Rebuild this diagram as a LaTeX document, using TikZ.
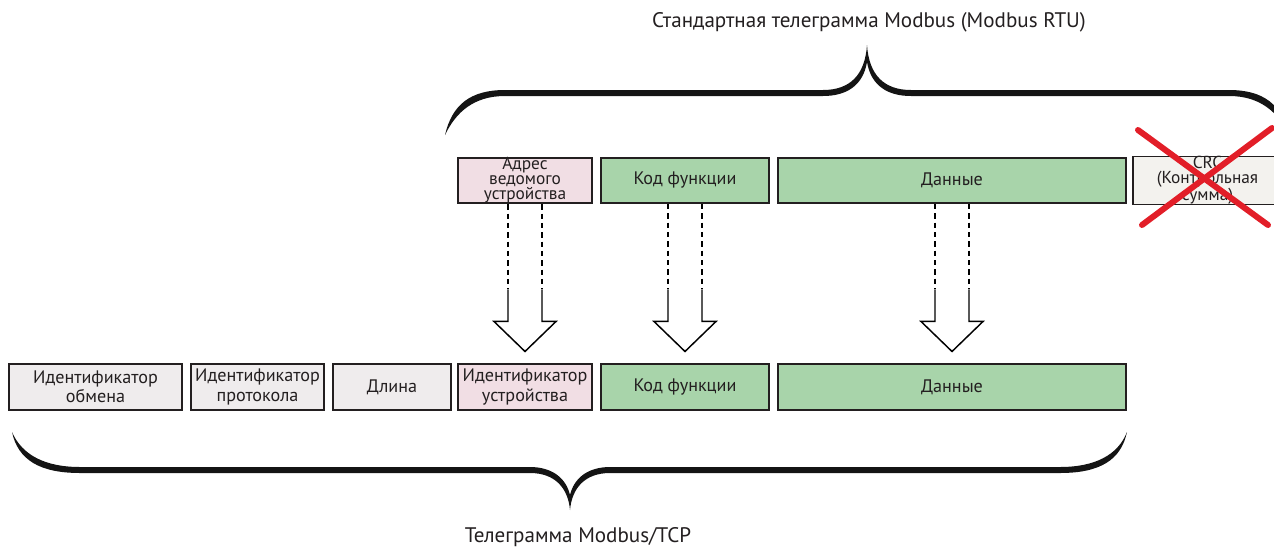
\documentclass[tikz,border=0pt]{standalone}
\usepackage{fontspec}
\setmainfont{PT Sans}
\usepackage{tikz}
\usepackage{xcolor}
\usetikzlibrary{arrows.meta,calc,positioning}
\definecolor{slavepink}{RGB}{241,222,228}
\definecolor{pdugreen}{RGB}{168,212,170}
\definecolor{hdrgrey}{RGB}{239,236,237}
\definecolor{crcgrey}{RGB}{243,242,238}
\definecolor{crossred}{RGB}{226,30,40}
\definecolor{inkgrey}{RGB}{35,31,32}
\tikzset{
  field/.style={draw=inkgrey,line width=1.3pt,minimum height=34pt,inner xsep=1pt,inner ysep=0pt,
    align=center,text=inkgrey,font=\fontsize{13.6}{14.5}\selectfont},
  tightfield/.style={field,font=\fontsize{13}{10.6}\selectfont},
  caption/.style={text=inkgrey,font=\fontsize{15.8}{18}\selectfont},
  brace/.style={fill=black!92},
  hollow/.style={draw=black,line width=1.1pt,fill=white,line join=miter},
  guide/.style={draw=black,line width=1.1pt,dash pattern=on 4pt off 3pt}
}

\begin{document}
\begin{tikzpicture}[x=0.75pt,y=-0.75pt]
  \useasboundingbox (0,0) rectangle (1274,547);

  % 顶部标题
  \node[caption] (rtutitle) at (869,22) {Стандартная телеграмма Modbus (Modbus RTU)};

  % 顶部括号
  \fill[brace] (445,135) .. controls (452,105) and (470,90) .. (505,90) -- (823,90)
    .. controls (850,90) and (865,75) .. (867,45)
    .. controls (869,75) and (884,90) .. (911,90) -- (1229,90)
    .. controls (1264,90) and (1282,105) .. (1289,135)
    .. controls (1278,112) and (1260,96) .. (1229,96) -- (911,96)
    .. controls (888,96) and (871,86) .. (867,62)
    .. controls (863,86) and (846,96) .. (823,96) -- (505,96)
    .. controls (474,96) and (456,112) .. (445,135) -- cycle;

  % RTU 帧
  \node[tightfield,fill=slavepink,minimum width=100.5pt] (addr) at (525,180.5)
    {Адрес\\ведомого\\устройства};
  \node[field,fill=pdugreen,minimum width=126pt] (fcode) at (685,180.5) {Код функции};
  \node[field,fill=pdugreen,minimum width=261pt] (pdata) at (952,180.5) {Данные};
  \node[tightfield,fill=crcgrey,minimum width=111.75pt] (crc) at (1207.5,180.5)
    {CRC\\(Контрольная\\сумма)};

  % 红色叉
  \draw[crossred,line width=4.5pt,line cap=round] (1138,130) -- (1268,225);
  \draw[crossred,line width=4.5pt,line cap=round] (1142,225) -- (1272,128);

  % TCP 帧
  \node[field,fill=hdrgrey,minimum width=129.75pt] (txid) at (95.5,387) {Идентификатор\\обмена};
  \node[field,fill=hdrgrey,minimum width=99.75pt] (protid) at (257.5,387) {Идентификатор\\протокола};
  \node[field,fill=hdrgrey,minimum width=88.5pt] (len) at (392,387) {Длина};
  \node[field,fill=slavepink,minimum width=100.5pt] (devid) at (525,387) {Идентификатор\\устройства};
  \node[field,fill=pdugreen,minimum width=126pt] (fcode2) at (685,387) {Код функции};
  \node[field,fill=pdugreen,minimum width=261pt] (pdata2) at (952,387) {Данные};

  % 空心箭头
  \foreach \src/\dst in {addr/devid,fcode/fcode2,pdata/pdata2}{
    \coordinate (tip) at ($(\src.south |- \dst.north)+(0,-12)$);
    \draw[guide] ($(\src.south)+(-17,0)$) -- ($(tip)+(-17,-62)$);
    \draw[guide] ($(\src.south)+(17,0)$) -- ($(tip)+(17,-62)$);
    \draw[hollow] ($(tip)+(-17,-62)$) -- ++(0,32) -- ++(-14,0) -- (tip)
      -- ++(31,-30) -- ++(-14,0) -- ++(0,-32);
  }

  % 底部括号
  \fill[brace] (12,432) .. controls (18,460) and (40,473) .. (80,473) -- (530,473)
    .. controls (555,473) and (568,488) .. (570,510)
    .. controls (572,488) and (585,473) .. (610,473) -- (1060,473)
    .. controls (1100,473) and (1121,460) .. (1127,432)
    .. controls (1118,455) and (1095,467) .. (1060,467) -- (610,467)
    .. controls (588,467) and (574,478) .. (570,495)
    .. controls (566,478) and (552,467) .. (530,467) -- (80,467)
    .. controls (45,467) and (22,455) .. (12,432) -- cycle;

  % 底部标题
  \node[caption] (tcptitle) at (578,537) {Телеграмма Modbus/TCP};
\end{tikzpicture}
\end{document}
